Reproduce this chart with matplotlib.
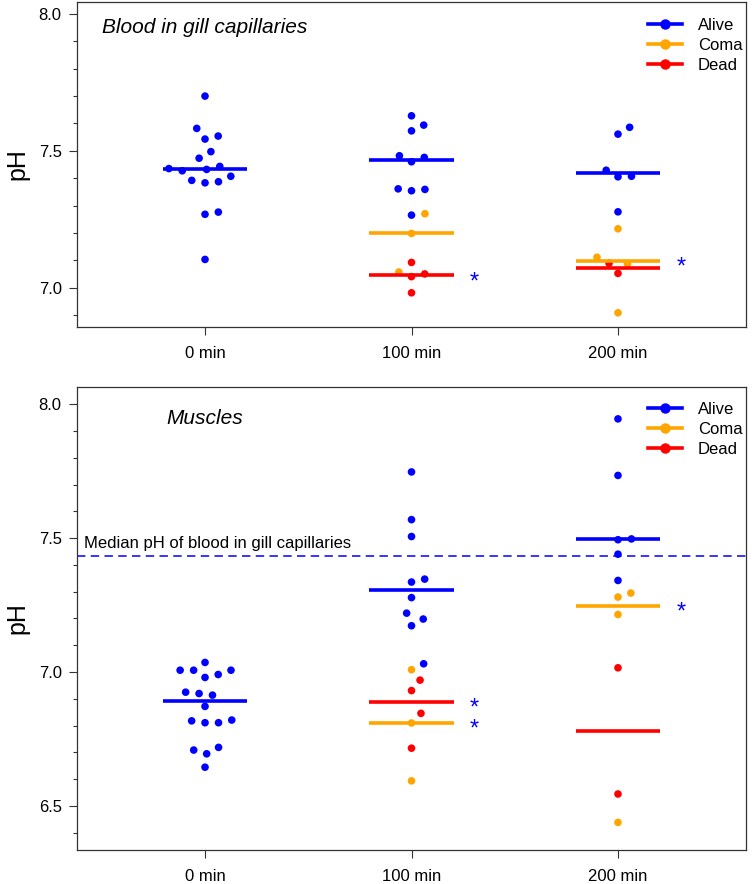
import numpy as np
import matplotlib
matplotlib.use("Agg")
import matplotlib.pyplot as plt
from matplotlib.lines import Line2D

plt.rcParams['font.family'] = ['Liberation Sans', 'DejaVu Sans']

# ---------------- data ----------------
times = ['0 min', '100 min', '200 min']
statuses = ['Alive', 'Coma', 'Dead']
status_colors = ['#0000FF', '#FFA500', '#FF0000']

# Blood in gill capillaries (pH)
blood_0_alive = [7.700, 7.582, 7.543, 7.554, 7.497, 7.473, 7.435, 7.427, 7.432,
                 7.443, 7.392, 7.383, 7.387, 7.407, 7.268, 7.276, 7.103]
blood_100_alive = [7.628, 7.594, 7.573, 7.482, 7.460, 7.476, 7.361, 7.354, 7.359, 7.265]
blood_100_coma = [7.270, 7.198, 7.057]
blood_100_dead = [7.092, 7.040, 7.050, 6.981]
blood_200_alive = [7.586, 7.561, 7.429, 7.405, 7.407, 7.277]
blood_200_coma = [7.215, 7.111, 7.087, 6.908]
blood_200_dead = [7.089, 7.052]

# Muscles (pH)
muscle_0_alive = [7.036, 7.007, 7.007, 7.007, 6.980, 6.991, 6.925, 6.920, 6.914,
                  6.872, 6.818, 6.811, 6.811, 6.821, 6.709, 6.695, 6.719, 6.645]
muscle_100_alive = [7.747, 7.569, 7.506, 7.347, 7.336, 7.278, 7.220, 7.198, 7.173, 7.031]
muscle_100_coma = [7.009, 6.810, 6.594]
muscle_100_dead = [6.970, 6.931, 6.846, 6.716]
muscle_200_alive = [7.945, 7.734, 7.494, 7.497, 7.440, 7.342]
muscle_200_coma = [7.295, 7.280, 7.215, 6.439]
muscle_200_dead = [7.016, 6.545]

blood = [
    {'Alive': blood_0_alive},
    {'Alive': blood_100_alive, 'Coma': blood_100_coma, 'Dead': blood_100_dead},
    {'Alive': blood_200_alive, 'Coma': blood_200_coma, 'Dead': blood_200_dead},
]
muscle = [
    {'Alive': muscle_0_alive},
    {'Alive': muscle_100_alive, 'Coma': muscle_100_coma, 'Dead': muscle_100_dead},
    {'Alive': muscle_200_alive, 'Coma': muscle_200_coma, 'Dead': muscle_200_dead},
]

# significance marks: (time index, status)
blood_stars = [(1, 'Dead'), (2, 'Coma')]
muscle_stars = [(1, 'Dead'), (1, 'Coma'), (2, 'Coma')]

blood_title = 'Blood in gill capillaries'
muscle_title = 'Muscles'
ref_label = 'Median pH of blood in gill capillaries'

# ---------------- figure ----------------
W, H = 752, 884
fig = plt.figure(figsize=(W / 100, H / 100), dpi=100)


def axes_px(l, t, r, b):
    return fig.add_axes([l / W, 1 - b / H, (r - l) / W, (b - t) / H])


ax1 = axes_px(77, 2, 746, 327)
ax2 = axes_px(77, 387, 746, 850)

color_of = dict(zip(statuses, status_colors))
DOT = 13.5  # swarm spacing in pixels
HALF = 0.205


def swarm_offsets(ax, x0, vals):
    """R beeswarm 'swarm' layout (ascending priority) in pixel space."""
    vals = np.asarray(vals, float)
    pts = np.column_stack([np.full(len(vals), x0), vals])
    ypx = ax.transData.transform(pts)[:, 1]
    order = np.argsort(ypx, kind='stable')
    off = np.zeros(len(vals))
    placed = []
    for i in order:
        yi = ypx[i]
        pot = [(ox, oy) for (ox, oy) in placed if abs(yi - oy) < DOT]
        if pot:
            plus, minus = [], []
            for ox, oy in pot:
                d = np.sqrt(DOT ** 2 - (yi - oy) ** 2)
                plus.append(ox + d)
                minus.append(ox - d)
            cands = [0.0] + plus + minus
            best, bestabs = None, np.inf
            for c in cands:
                bad = any((c - ox) ** 2 + (yi - oy) ** 2 < 0.999 * DOT ** 2 for ox, oy in pot)
                if not bad and abs(c) < bestabs:
                    best, bestabs = c, abs(c)
            off[i] = best
        placed.append((off[i], yi))
    pxu = ax.transData.transform([(1, 0)])[0, 0] - ax.transData.transform([(0, 0)])[0, 0]
    return off / pxu


def draw_panel(ax, groups, ylim, majors, minors, title, title_y, stars, leg_anchor):
    ax.set_xlim(0.38, 3.62)
    ax.set_ylim(*ylim)
    for ti, grp in enumerate(groups):
        x0 = ti + 1
        vals, cols = [], []
        for st in statuses:
            if st in grp:
                vals += list(grp[st])
                cols += [color_of[st]] * len(grp[st])
        dx = swarm_offsets(ax, x0, vals)
        ax.scatter(x0 + dx, vals, s=30, c=cols, linewidths=0, zorder=3)
        for st in statuses:
            if st in grp:
                m = np.median(grp[st])
                ax.plot([x0 - HALF, x0 + HALF], [m, m], color=color_of[st],
                        lw=2.6, solid_capstyle='butt', zorder=4)
    for ti, st in stars:
        m = np.median(groups[ti][st])
        ax.annotate('*', xy=(ti + 1 + 0.305, m), xytext=(0, -9.3),
                    textcoords='offset points', ha='center', va='baseline',
                    fontsize=17, color='#0000FF', zorder=5)
    ax.text(1, title_y, title, style='italic', ha='center', va='center', fontsize=15)
    ax.set_xticks([1, 2, 3])
    ax.set_xticklabels(times)
    ax.set_yticks(majors)
    ax.set_yticklabels(['%.1f' % v for v in majors])
    ax.set_yticks(minors, minor=True)
    ax.tick_params(axis='both', which='major', labelsize=12, length=6, width=0.8,
                   color='#333333')
    ax.tick_params(axis='y', which='major', pad=5)
    ax.tick_params(axis='x', which='major', pad=8)
    ax.tick_params(axis='y', which='minor', length=3, width=0.8, color='#333333')
    for sp in ax.spines.values():
        sp.set_color('#333333')
        sp.set_linewidth(0.9)
    handles = [Line2D([], [], color=c, lw=2.6, marker='o', markersize=6.5)
               for c in status_colors]
    ax.legend(handles, statuses, loc='upper right', bbox_to_anchor=leg_anchor,
              frameon=False, fontsize=12, handlelength=2.05, handletextpad=0.95,
              labelspacing=0.3, borderpad=0, borderaxespad=0)
    bb = ax.get_position()
    fig.text(17 / W, bb.y0 + bb.height / 2, 'pH', rotation=90, ha='center',
             va='center', fontsize=18)


draw_panel(ax1, blood, (6.856, 8.044), [7.0, 7.5, 8.0],
           np.round(np.arange(6.9, 8.01, 0.1), 2), blood_title, 7.952,
           blood_stars, (0.995, 0.952))
draw_panel(ax2, muscle, (6.336, 8.064), [6.5, 7.0, 7.5, 8.0],
           np.round(np.arange(6.4, 8.01, 0.1), 2), muscle_title, 7.946,
           muscle_stars, (0.995, 0.967))

# reference line: median pH of blood at 0 min
ref = np.median(blood_0_alive)
ax2.axhline(ref, color='#0000FF', lw=1.1, ls=(0, (5.5, 3.5)), zorder=2)
ax2.annotate(ref_label, xy=(0.011, ref), xycoords=('axes fraction', 'data'),
             xytext=(0, 4), textcoords='offset points', ha='left', va='bottom',
             fontsize=12)

fig.savefig('out.png', dpi=100)
